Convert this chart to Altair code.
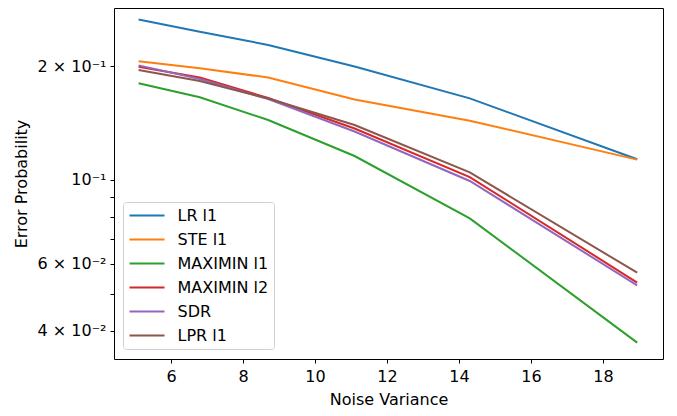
import altair as alt
import pandas as pd

noise_variance = [5.1, 6.8, 8.7, 11.1, 14.3, 18.95]

series_names = ["LR l1", "STE l1", "MAXIMIN l1", "MAXIMIN l2", "SDR", "LPR l1"]
series_colors = ["#1f77b4", "#ff7f0e", "#2ca02c", "#d62728", "#9467bd", "#8c564b"]

lr_l1 = [0.2653, 0.2464, 0.2273, 0.1995, 0.1643, 0.1134]
ste_l1 = [0.2058, 0.1972, 0.1865, 0.1632, 0.1434, 0.1132]
maximin_l1 = [0.1800, 0.1654, 0.1440, 0.1157, 0.0792, 0.0372]
maximin_l2 = [0.1992, 0.1865, 0.1646, 0.1368, 0.1018, 0.0536]
sdr = [0.2008, 0.1848, 0.1636, 0.1343, 0.0994, 0.0527]
lpr_l1 = [0.1952, 0.1826, 0.1641, 0.1397, 0.1047, 0.0569]

x_ticks = [6, 8, 10, 12, 14, 16, 18]
y_ticks = [0.04, 0.05, 0.06, 0.07, 0.08, 0.09, 0.1, 0.2]
y_labels = {0.2: "2 × 10⁻¹", 0.1: "10⁻¹", 0.06: "6 × 10⁻²", 0.04: "4 × 10⁻²"}

all_values = [lr_l1, ste_l1, maximin_l1, maximin_l2, sdr, lpr_l1]
rows = []
for name, vals in zip(series_names, all_values):
    for xv, yv in zip(noise_variance, vals):
        rows.append({"series": name, "x": xv, "y": yv})
df = pd.DataFrame(rows)

label_expr = " : ".join(
    [f"abs(datum.value - {k}) < 1e-9 ? '{v}'" for k, v in y_labels.items()]
) + " : ''"

FONT = "DejaVu Sans"
FS = 16

x_enc = alt.X(
    "x:Q",
    title="Noise Variance",
    scale=alt.Scale(domain=[4.417, 19.667], nice=False, zero=False),
    axis=alt.Axis(values=x_ticks, grid=False, domain=False, tickSize=4,
                  tickColor="black", labelColor="black", labelFontSize=FS,
                  labelFont=FONT, labelPadding=5, titleFont=FONT,
                  titleFontSize=FS, titleFontWeight="normal", titleColor="black",
                  titlePadding=7, labelFlush=False),
)
y_enc = alt.Y(
    "y:Q",
    title="Error Probability",
    scale=alt.Scale(type="log", domain=[0.03367, 0.2846], nice=False, zero=False),
    axis=alt.Axis(values=y_ticks, labelExpr=label_expr, grid=False, domain=False,
                  tickSize=4, tickColor="black", labelColor="black",
                  labelFontSize=FS, labelFont=FONT, labelPadding=4,
                  titleFont=FONT, titleFontSize=FS, titleFontWeight="normal",
                  titleColor="black", titlePadding=8, labelFlush=False),
)
color_enc = alt.Color(
    "series:N",
    scale=alt.Scale(domain=series_names, range=series_colors),
    sort=series_names,
    legend=alt.Legend(orient="none", legendX=9, legendY=194, title=None,
                      symbolType="stroke", symbolSize=1225, symbolStrokeWidth=2,
                      clipHeight=16, rowPadding=8, padding=5.5,
                      labelFontSize=FS, labelFont=FONT, labelColor="black",
                      labelOffset=12, fillColor="white", strokeColor="#d0d0d0",
                      cornerRadius=3),
)

layers = []
for name in series_names:
    layers.append(
        alt.Chart(df)
        .transform_filter(alt.datum.series == name)
        .mark_line(strokeWidth=2)
        .encode(x=x_enc, y=y_enc, color=color_enc)
    )

chart = (
    alt.layer(*layers)
    .properties(width=549, height=351,
                padding={"left": 106, "top": 0, "right": 6, "bottom": 49},
                autosize=alt.AutoSizeParams(type="none"))
    .configure_view(stroke="black", strokeWidth=1)
)

chart.save("out.html", embed_options={"renderer": "svg", "actions": False})
